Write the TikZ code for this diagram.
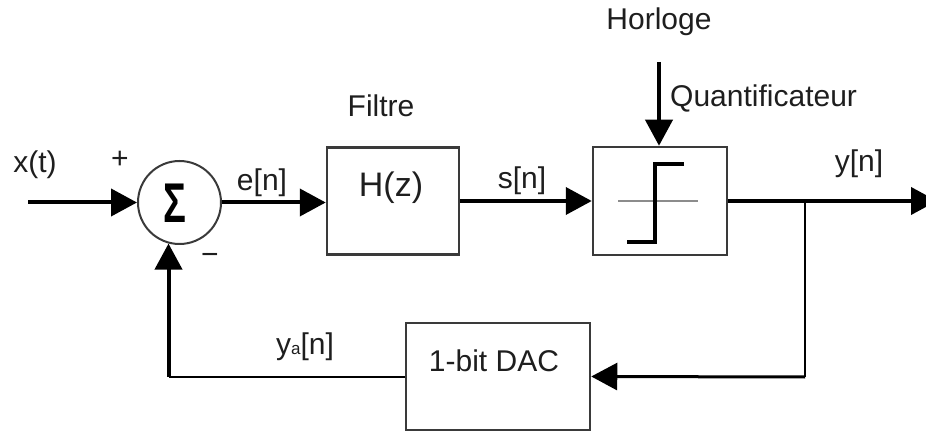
\documentclass[tikz,border=0pt]{standalone}
\usepackage{fontspec}
\usepackage{graphicx}
\setmainfont{Liberation Sans}
\usetikzlibrary{arrows.meta}
\definecolor{boxgray}{HTML}{3A3A3A}
\definecolor{axisgray}{HTML}{8C8C8C}
\definecolor{inkcol}{HTML}{1E1E1E}
\begin{document}
\begin{tikzpicture}[x=1pt,y=-1pt,
  lbl/.style={font=\fontsize{30}{36}\selectfont, text=inkcol, inner sep=0pt, anchor=base},
  blockbox/.style={draw=boxgray, line width=2.5pt, inner sep=0pt},
  sumnode/.style={circle, draw=boxgray, line width=2pt, minimum size=83pt, inner sep=0pt},
  tipstyle/.style={-{Triangle[length=26pt,width=27pt]}},
  sigline/.style={line width=4pt, tipstyle},
  thinline/.style={line width=2pt},
  midline/.style={line width=3pt, tipstyle}]
  \clip (0,0) rectangle (926,435);

  % blocks
  \node[sumnode] (sum) at (179.5,202.5) {};
  \node[font=\fontsize{56}{56}\bfseries\selectfont, inner sep=0pt] (sig) at (175,203) {\scalebox{0.68}[1]{Σ}};
  \node[blockbox, minimum width=132pt, minimum height=107pt] (filt) at (393,201) {};
  \node[blockbox, minimum width=134pt, minimum height=108pt] (quant) at (660,201) {};
  \node[blockbox, minimum width=184pt, minimum height=107pt] (dac) at (498,376.5) {};

  % quantizer characteristic
  \draw[axisgray, line width=2.5pt] (618,201) -- (698,201);
  \draw[line width=4pt] (684,164) -- (655,164) -- (655,242) -- (627,242);

  % free ends and branch points
  \coordinate (xin) at (28,202.5);
  \coordinate (clk) at (659,62);
  \coordinate (yout) at (937,201);
  \coordinate (br) at (805,201);
  \coordinate (brd) at (805,377);

  % forward path
  \draw[sigline] (xin) -- (sum.west);
  \draw[sigline] (sum.east) -- (sum.east -| filt.west);
  \draw[sigline] (filt.east) -- (quant.west);
  \draw[sigline] (clk) -- (clk |- quant.north);
  \draw[sigline] (quant.east) -- (yout);

  % feedback path
  \draw[thinline] (br) -- (brd);
  \draw[midline] (brd) -- (dac.east);
  \draw[thinline] (dac.west) -- (dac.west -| sum.-105) coordinate (fbc);
  \draw[sigline] (fbc) -- (sum.-105);

  % labels
  \node[lbl] (lx) at (35,173) {x(t)};
  \node[lbl, anchor=center] (lplus) at (120,160) {+};
  \node[lbl, anchor=center] (lminus) at (210,259) {−};
  \node[lbl] (le) at (262,191) {e[n]};
  \node[lbl] (lfilt) at (381,117) {Filtre};
  \node[lbl, font=\fontsize{34}{40}\selectfont] (lh) at (391,197) {H(z)};
  \node[lbl] (ls) at (522,189) {s[n]};
  \node[lbl] (lclk) at (659,30) {Horloge};
  \node[lbl, anchor=base west] (lq) at (670,107) {Quantificateur};
  \node[lbl] (ly) at (859,172) {y[n]};
  \node[lbl] (lya) at (305,355) {y{\fontsize{17}{20}\selectfont a}[n]};
  \node[lbl] (ldac) at (494,372) {1-bit DAC};
\end{tikzpicture}
\end{document}
